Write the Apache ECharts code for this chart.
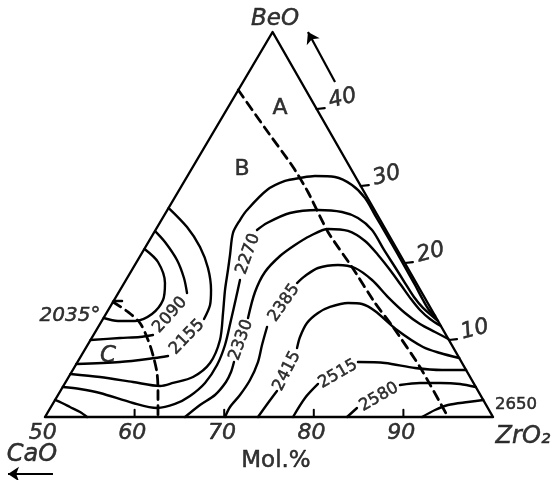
<!DOCTYPE html>
<html><head><meta charset="utf-8">
<script src="https://cdn.jsdelivr.net/npm/echarts@6/dist/echarts.min.js"></script>
<style>html,body{margin:0;padding:0;background:#fff}#c{width:551px;height:480px}</style>
</head><body><div id="c"></div>
<script>
// Coordinates: u = position along the CaO–ZrO2 base (mol.% ZrO2 scale 50..100), v = BeO mol.% (0..50)
const vertices = [[50,0],[100,0],[75.4,50]];
const bottomTicks = [50,60,70,80,90];
const bottomTickMarks = [60,70,80,90];
const rightTicks = [10,20,30,40];

const dashedAB = [[71.57,42.47],[74.55,37.53],[77.68,32.47],[79.35,29.22],[81.58,24.03],[84.26,19.48],[86.83,14.81],[88.84,11.69],[91.85,6.49],[94.98,0]];
const dashedBC = [[57.6,14.94],[59.26,13.64],[60.60,12.21],[61.50,10.0],[62.05,8.05],[62.50,5.71],[62.61,3.25],[62.61,0]];
const dashedBCTick = [[57.67,15.06],[58.6,15.06]];

const arcInner = [[61.11,21.82],[62.61,20.13],[63.39,17.40],[63.17,15.19],[61.94,13.38],[60.04,12.47],[58.15,12.47],[56.55,12.86]];
const c2090a = [[62.29,24.15],[63.39,22.73],[64.73,20.39],[65.51,18.05],[65.85,16.10]];
const c2090b = [[62.05,10.65],[60.60,10.39],[58.37,10.26],[55.09,10.0]];
const c2155a = [[63.81,27.14],[65.85,24.67],[67.30,22.08],[68.19,19.35],[68.53,16.49],[68.42,14.55],[67.75,12.73]];
const c2155b = [[63.73,7.92],[62.28,7.66],[58.37,7.14],[53.50,6.88]];
const cOuter = [[52.84,5.58],[56.14,5.19],[59.82,4.55],[62.84,4.03],[64.29,4.42],[66.52,5.19],[68.42,7.01],[69.53,10.0],[69.87,13.51],[70.09,16.49],[70.42,19.09],[70.65,21.04],[70.98,23.90],[71.76,25.58],[72.55,26.88],[74.78,29.48],[76.79,30.65],[78.46,31.04],[80.13,31.30],[82.37,31.17],[84.26,30.13],[85.72,28.44],[86.83,26.23],[88.06,23.77],[89.29,21.30],[90.29,19.22],[91.30,17.14],[92.19,15.19],[92.86,13.90],[93.54,13.12]];
const c2270a = [[73.66,24.28],[74.78,25.19],[77.34,26.49],[80.47,26.88],[83.15,26.62],[84.93,25.84],[86.50,24.28],[87.84,21.69],[89.06,19.48],[90.18,17.40],[91.18,15.58],[92.19,14.16],[93.86,12.47]];
const c2270b = [[71.76,17.79],[71.32,15.45],[70.76,12.60],[70.09,9.35],[69.20,6.75],[67.86,4.42],[66.18,2.73],[64.51,1.69],[62.50,1.17],[59.82,1.82],[56.14,3.12],[53.91,3.64],[51.99,3.90]];
const c2330a = [[72.66,12.86],[73.44,16.23],[74.55,18.83],[76.23,20.91],[77.90,22.34],[79.58,23.51],[81.59,24.42],[83.82,24.16],[85.72,22.86],[87.17,21.04],[88.51,19.09],[89.73,17.14],[90.85,15.32],[91.85,13.90],[92.97,12.73],[94.18,11.82]];
const c2330b = [[71.09,7.14],[70.76,5.84],[70.20,4.55],[68.97,2.86],[67.30,1.56],[65.63,0]];
const c2385a = [[78.13,17.40],[79.02,18.31],[80.47,19.35],[82.70,19.74],[84.60,19.35],[86.50,17.79],[88.28,15.58],[90.18,13.51],[91.85,12.08],[93.53,11.04],[95.02,10.13]];
const c2385b = [[74.78,11.69],[74.22,9.35],[73.77,7.14],[72.88,4.81],[71.76,2.86],[70.65,1.30],[70.09,0]];
const c2415a = [[78.13,8.96],[78.46,10.39],[79.24,12.21],[80.47,13.51],[81.81,14.29],[83.82,14.81],[85.38,14.68],[86.83,13.77],[89.29,11.30],[92.19,9.09],[94.09,8.31],[96.23,7.66]];
const c2415b = [[75.89,3.38],[74.89,1.82],[73.77,0]];
const c2515a = [[84.93,7.14],[87.95,7.01],[91.30,6.36],[94.31,6.10],[97.0,6.10]];
const c2515b = [[80.47,4.29],[79.02,2.47],[77.68,0]];
const c2580a = [[89.62,4.16],[91.85,4.42],[94.09,4.42],[96.32,4.29],[98.08,3.90]];
const c2580b = [[84.82,1.17],[83.71,0]];
const c2650 = [[92.08,0],[93.53,0.91],[94.98,1.56],[97.21,1.95],[98.91,2.21]];
const cCorner = [[51.12,2.21],[51.90,1.82],[52.79,1.30],[53.91,0.65],[54.69,0]];

const contourLabelText = ['2090','2155','2270','2330','2385','2415','2515','2580','2650'];
const contourLabelPos = [[63.95,13.25],[65.85,10.39],[72.66,21.17],[71.88,10.0],[76.67,14.81],[77.01,5.97],[82.70,5.58],[87.28,2.60],[102.57,1.56]];
const contourLabelAngle = [48,46,70,70,55,63,30,30,0];

const nameText = ['BeO','ZrO₂','CaO','Mol.%','A','B','C','2035°'];
const namePos = [[75.67,51.69],[103.35,-2.60],[48.55,-4.94],[75.78,-5.71],[76.23,40.13],[71.99,32.21],[57.03,7.92],[52.79,13.12]];

const arrowBeO = [[82.37,43.51],[79.35,50.0]];
const arrowCaO = [[50.89,-7.40],[45.87,-7.40]];

const FONT = 'DejaVu Sans';
const chart = echarts.init(document.getElementById('c'), null, {renderer:'canvas'});
const X0 = 50 - 45/8.96, X1 = 50 + 506/8.96, Y0 = -63/7.7, Y1 = 417/7.7;
function edgeU(v){ return vertices[1][0] - (vertices[1][0]-vertices[2][0]) * v / vertices[2][1]; }
function poly(data, opt){
  opt = opt || {};
  return {type:'line', data:data, showSymbol:false, symbol:'none', smooth: opt.smooth===undefined?0.3:opt.smooth,
    clip:false, silent:true, animation:false, z: opt.z||2,
    lineStyle:{color:'#000', width: opt.width||2.4, type: opt.type||'solid', cap:'round', join:'round'}};
}
const series = [];
series.push(poly(vertices.concat([vertices[0]]), {smooth:0, width:2.4}));
series.push(poly(dashedAB, {type:[9,6], width:2.8, smooth:0.2}));
series.push(poly(dashedBC, {type:[9,6], width:2.8, smooth:0.3}));
series.push(poly(dashedBCTick, {smooth:0, width:2.4}));
[arcInner,c2090a,c2090b,c2155a,c2155b,cOuter,c2270a,c2270b,c2330a,c2330b,c2385a,c2385b,c2415a,c2415b,c2515a,c2515b,c2580a,c2580b,c2650,cCorner]
  .forEach(function(d){ series.push(poly(d)); });
bottomTickMarks.forEach(function(t){ series.push(poly([[t,0],[t,0.95]], {smooth:0, width:2})); });
rightTicks.forEach(function(v){ var u=edgeU(v); series.push(poly([[u,v],[u+0.9,v+0.12]], {smooth:0, width:2.2})); });

function textSeries(items){
  return {type:'scatter', symbolSize:1, itemStyle:{color:'rgba(0,0,0,0)'}, silent:true, animation:false, clip:false, z:5,
    data:items, label:{show:true, position:'inside', formatter:'{b}', color:'#000', fontFamily:FONT,
      textBorderWidth:0.5, textBorderColor:'#000', textShadowBlur:0}};
}
series.push(textSeries(contourLabelText.map(function(t,i){
  return {name:t, value:contourLabelPos[i], label:{rotate:contourLabelAngle[i], fontSize:16.5}};
})));
series.push(textSeries(bottomTicks.map(function(t){
  return {name:String(t), value:[t-0.25,-2.15], label:{fontSize:22, fontStyle:'italic'}};
})));
series.push(textSeries(rightTicks.map(function(v){
  return {name:String(v), value:[edgeU(v)+2.9, v+1.35], label:{fontSize:22, fontStyle:'italic', rotate:15}};
})));
const nameStyles = [
  {fontSize:23, fontStyle:'italic'},
  {fontSize:24, fontStyle:'italic'},
  {fontSize:24, fontStyle:'italic'},
  {fontSize:23},
  {fontSize:22},
  {fontSize:22},
  {fontSize:23, fontStyle:'italic'},
  {fontSize:20, fontStyle:'italic'}
];
series.push(textSeries(nameText.map(function(t,i){
  return {name:t, value:namePos[i], label:nameStyles[i]};
})));
[arrowBeO, arrowCaO].forEach(function(a){
  series.push({type:'lines', coordinateSystem:'cartesian2d', silent:true, animation:false, z:3,
    symbol:['none','arrow'], symbolSize:11,
    lineStyle:{color:'#000', width:2.2, opacity:1, curveness:0},
    data:[{coords:a}]});
});

chart.setOption({
  backgroundColor:'#fff',
  animation:false,
  grid:{left:0, right:0, top:0, bottom:0, containLabel:false},
  xAxis:{type:'value', min:X0, max:X1, show:false},
  yAxis:{type:'value', min:Y0, max:Y1, show:false},
  series:series
});
</script></body></html>
